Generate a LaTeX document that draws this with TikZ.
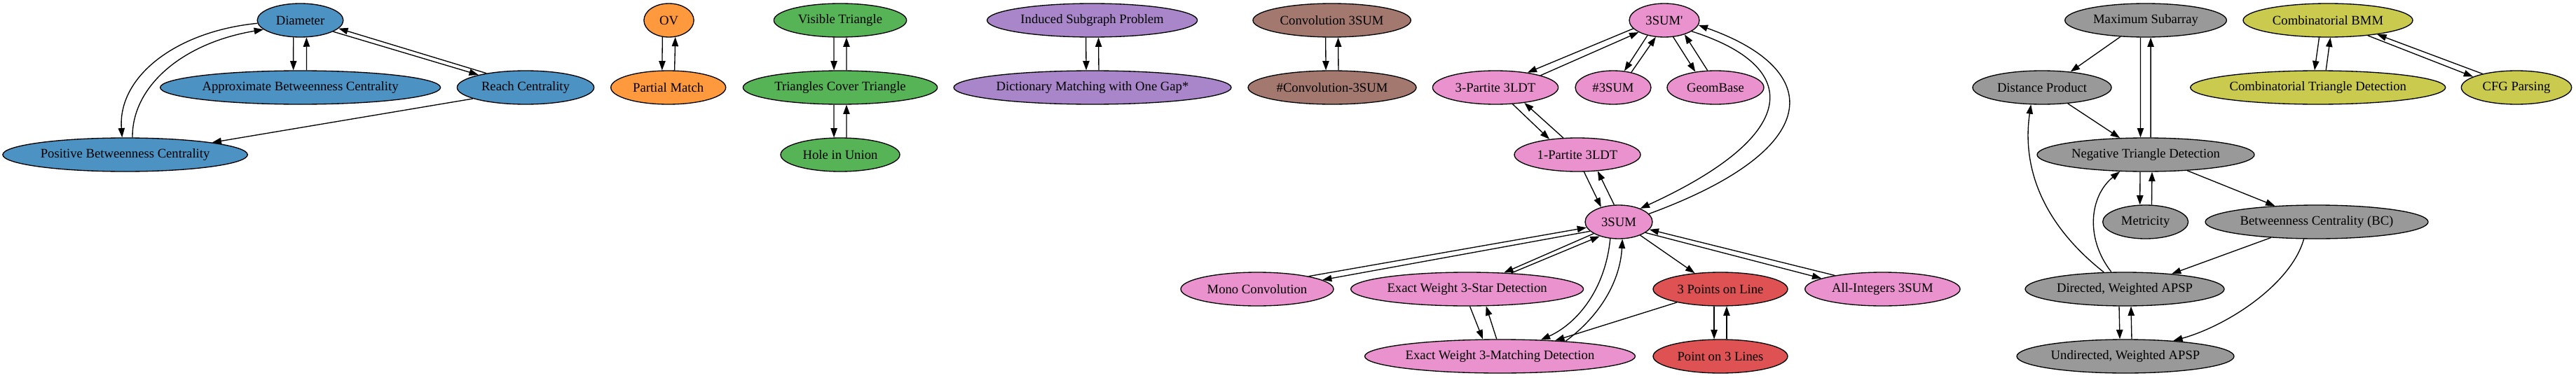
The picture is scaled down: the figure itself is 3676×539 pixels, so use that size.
\documentclass[tikz,border=0pt]{standalone}
\usepackage{fontspec}
\setmainfont{Liberation Serif}[Ligatures=TeXOff]
\usetikzlibrary{shapes.geometric,arrows.meta}
\definecolor{cblue}{RGB}{76,146,195}
\definecolor{corange}{RGB}{255,153,62}
\definecolor{cgreen}{RGB}{86,179,86}
\definecolor{cred}{RGB}{222,82,83}
\definecolor{cpurple}{RGB}{169,133,202}
\definecolor{cbrown}{RGB}{163,120,111}
\definecolor{cpink}{RGB}{233,146,206}
\definecolor{cgray}{RGB}{153,153,153}
\definecolor{colive}{RGB}{201,202,78}
\tikzset{
  nd/.style={ellipse, draw=black, line width=1pt, inner sep=0pt, minimum height=36pt,
    font=\fontsize{14}{16}\selectfont},
  edg/.style={-{Triangle[length=10pt,width=7pt]}, line width=1pt, black},
}
\begin{document}
\begin{tikzpicture}[x=0.75pt,y=-0.75pt]
\useasboundingbox (0,0) rectangle (3676,539);
% blue cluster
\node[nd, fill=cblue, minimum width=92pt] (dia) at (428.5,29) {Diameter};
\node[nd, fill=cblue, minimum width=300pt] (abc) at (428.6,125) {Approximate Betweenness Centrality};
\node[nd, fill=cblue, minimum width=146.5pt] (reach) at (750,125) {Reach Centrality};
\node[nd, fill=cblue, minimum width=262pt] (pbc) at (178.6,221) {Positive Betweenness Centrality};
% orange
\node[nd, fill=corange, minimum width=53.4pt] (ov) at (954.5,29) {OV};
\node[nd, fill=corange, minimum width=123pt] (pm) at (953.7,125) {Partial Match};
% green
\node[nd, fill=cgreen, minimum width=142pt] (vt) at (1199,29) {Visible Triangle};
\node[nd, fill=cgreen, minimum width=208pt] (tct) at (1199,125) {Triangles Cover Triangle};
\node[nd, fill=cgreen, minimum width=127.5pt] (hole) at (1199,221) {Hole in Union};
% purple
\node[nd, fill=cpurple, minimum width=225pt] (isp) at (1558.6,29) {Induced Subgraph Problem};
\node[nd, fill=cpurple, minimum width=297pt] (dict) at (1559,125) {Dictionary Matching with One Gap*};
% brown
\node[nd, fill=cbrown, minimum width=169pt] (conv) at (1900.6,29) {Convolution 3SUM};
\node[nd, fill=cbrown, minimum width=180pt] (nconv) at (1901,125) {\#Convolution-3SUM};
% pink / red
\node[nd, fill=cpink, minimum width=75pt] (s3p) at (2375,29) {3SUM'};
\node[nd, fill=cpink, minimum width=134.4pt] (p3) at (2134,125) {3-Partite 3LDT};
\node[nd, fill=cpink, minimum width=81pt] (n3sum) at (2302,125) {\#3SUM};
\node[nd, fill=cpink, minimum width=103.5pt] (geom) at (2448,125) {GeomBase};
\node[nd, fill=cpink, minimum width=135pt] (p1) at (2251,221) {1-Partite 3LDT};
\node[nd, fill=cpink, minimum width=72pt] (s3) at (2310,317) {3SUM};
\node[nd, fill=cpink, minimum width=163.5pt] (mono) at (1794,413) {Mono Convolution};
\node[nd, fill=cpink, minimum width=249pt] (star) at (2093.6,413) {Exact Weight 3-Star Detection};
\node[nd, fill=cred, minimum width=144pt] (pol) at (2455,413) {3 Points on Line};
\node[nd, fill=cpink, minimum width=166pt] (allint) at (2686.4,413) {All-Integers 3SUM};
\node[nd, fill=cpink, minimum width=289.5pt] (match) at (2140.5,509) {Exact Weight 3-Matching Detection};
\node[nd, fill=cred, minimum width=144pt] (p3l) at (2455,509) {Point on 3 Lines};
% gray
\node[nd, fill=cgray, minimum width=173pt] (maxsub) at (3062,29) {Maximum Subarray};
\node[nd, fill=cgray, minimum width=148.5pt] (dp) at (2914,125) {Distance Product};
\node[nd, fill=cgray, minimum width=232.5pt] (ntd) at (3062,221) {Negative Triangle Detection};
\node[nd, fill=cgray, minimum width=91.5pt] (metr) at (3061.6,317) {Metricity};
\node[nd, fill=cgray, minimum width=238.5pt] (bc) at (3306,317) {Betweenness Centrality (BC)};
\node[nd, fill=cgray, minimum width=213pt] (dir) at (3032,413) {Directed, Weighted APSP};
\node[nd, fill=cgray, minimum width=232.5pt] (undir) at (3033,509) {Undirected, Weighted APSP};
% olive
\node[nd, fill=colive, minimum width=181.5pt] (bmm) at (3322,29) {Combinatorial BMM};
\node[nd, fill=colive, minimum width=273pt] (ctd) at (3307.7,125) {Combinatorial Triangle Detection};
\node[nd, fill=colive, minimum width=118pt] (cfg) at (3591,125) {CFG Parsing};

% blue edges
\draw[edg] (dia.-112) -- (abc.112);
\draw[edg] (abc.70) -- (dia.-70);
\draw[edg] (dia.-19) -- (reach.165);
\draw[edg] (reach.160) -- (dia.-12);
\draw[edg] (dia.-176) .. controls (250,45) and (168,110) .. (pbc.100);
\draw[edg] (pbc.67) .. controls (188,125) and (258,62) .. (dia.-166);
\draw[edg] (reach.-168) -- (pbc.8);
% small pairs
\draw[edg] (ov.-111) -- (pm.110);
\draw[edg] (pm.70) -- (ov.-69);
\draw[edg] (vt.-110) -- (tct.110);
\draw[edg] (tct.70) -- (vt.-70);
\draw[edg] (tct.-110) -- (hole.110);
\draw[edg] (hole.70) -- (tct.-70);
\draw[edg] (isp.-110) -- (dict.110);
\draw[edg] (dict.70) -- (isp.-70);
\draw[edg] (conv.-110) -- (nconv.110);
\draw[edg] (nconv.70) -- (conv.-70);
% 3SUM cluster
\draw[edg] (s3p.-165) -- (p3.25);
\draw[edg] (p3.15) -- (s3p.-155);
\draw[edg] (s3p.-138) -- (n3sum.56);
\draw[edg] (n3sum.40) -- (s3p.-117);
\draw[edg] (s3p.-62) -- (geom.142);
\draw[edg] (geom.115) -- (s3p.-35);
\draw[edg] (s3p.-22) .. controls (2572,95) and (2572,192) .. (s3.32);
\draw[edg] (s3.15) .. controls (2605,213) and (2605,100) .. (s3p.-8);
\draw[edg] (p3.-44) -- (p1.151);
\draw[edg] (p1.130) -- (p3.-28);
\draw[edg] (p1.-69) -- (s3.140);
\draw[edg] (s3.105) -- (p1.-39);
\draw[edg] (s3.-162) -- (mono.8);
\draw[edg] (mono.14) -- (s3.-170);
\draw[edg] (s3.-155) -- (star.24);
\draw[edg] (star.20) -- (s3.-143);
\draw[edg] (s3.-117) .. controls (2290,420) and (2245,465) .. (match.22);
\draw[edg] (match.13) .. controls (2285,450) and (2312,400) .. (s3.-78);
\draw[edg] (s3.-32) -- (pol.148);
\draw[edg] (s3.-22) -- (allint.170);
\draw[edg] (allint.164) -- (s3.-14);
\draw[edg] (star.-81) -- (match.135);
\draw[edg] (match.101) -- (star.-42);
\draw[edg] (pol.-163) -- (match.16);
\draw[edg] (pol.-110) -- (p3l.110);
\draw[edg] (p3l.70) -- (pol.-70);
% gray cluster
\draw[edg] (maxsub.-147) -- (dp.29);
\draw[edg] (maxsub.-107) -- (ntd.107);
\draw[edg] (ntd.74) -- (maxsub.-74);
\draw[edg] (dp.-32) -- (ntd.147);
\draw[edg] (dir.141) .. controls (2915,320) and (2885,240) .. (dp.-123);
\draw[edg] (dir.128) .. controls (2975,340) and (2982,280) .. (ntd.-147);
\draw[edg] (ntd.-108) -- (metr.108);
\draw[edg] (metr.70) -- (ntd.-70);
\draw[edg] (ntd.-21) -- (bc.159);
\draw[edg] (bc.-161) -- (dir.18);
\draw[edg] (bc.-127) .. controls (3270,405) and (3180,465) .. (undir.18);
\draw[edg] (dir.-108) -- (undir.108);
\draw[edg] (undir.70) -- (dir.-70);
% olive
\draw[edg] (bmm.-117) -- (ctd.101);
\draw[edg] (ctd.65) -- (bmm.-82);
\draw[edg] (bmm.-21) -- (cfg.166);
\draw[edg] (cfg.158) -- (bmm.-16);
\end{tikzpicture}
\end{document}
